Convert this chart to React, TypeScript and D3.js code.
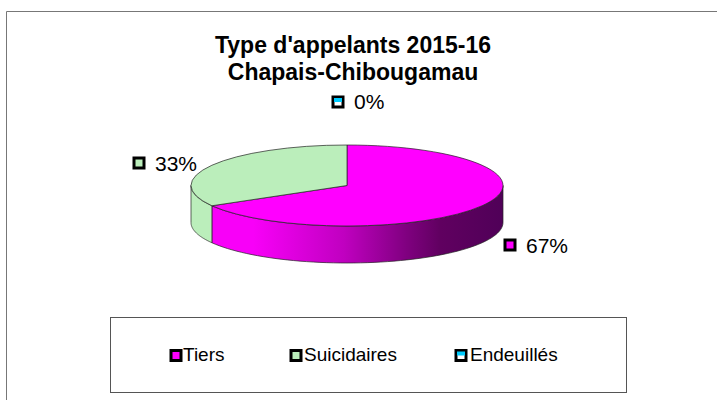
import React from 'react';
import * as d3 from 'd3';

const W = 717;
const H = 400;

const categories = ['Tiers', 'Suicidaires', 'Endeuillés'];
const values = [2, 1, 0];
const colors = ['#ff00ff', '#bbeebb', '#00ccff'];

const cx = 347;
const cy = 185.5;
const rx = 156;
const ry = 40.5;
const depth = 37;
const FONT = '"Liberation Sans", Arial, sans-serif';

const pieGen = d3.pie<number>().sort(null).value((d) => d);
const slices = pieGen(values);
const total = d3.sum(values);

// flattened circle -> ellipse point for a pie angle (0 = top, clockwise)
const pt = (a: number, dy = 0): [number, number] => [
  cx + rx * Math.sin(a),
  cy - ry * Math.cos(a) + dy,
];

const topArc = d3.arc<d3.PieArcDatum<number>>().innerRadius(0).outerRadius(rx);

// outer wall of a slice between two angles
const wall = (a0: number, a1: number) => {
  const steps = d3.range(0, 61).map((i) => a0 + ((a1 - a0) * i) / 60);
  const pts = [...steps.map((a) => pt(a)), ...steps.reverse().map((a) => pt(a, depth))];
  return d3.line()(pts) + 'Z';
};

const front = (a0: number, a1: number) => [Math.max(a0, Math.PI / 2), Math.min(a1, (3 * Math.PI) / 2)];

const Marker = ({ x, y, size, color, half }: { x: number; y: number; size: number; color: string; half?: boolean }) => (
  <g>
    <rect x={x} y={y} width={size} height={size} fill={half ? '#fff' : color} stroke="#000" strokeWidth={3} />
    {half && <rect x={x + 1} y={y + 1} width={size - 2} height={(size - 2) / 2} fill={color} />}
  </g>
);

const pctLabels = [
  { x: 505, y: 240, tx: 526, ty: 253 },
  { x: 134, y: 158, tx: 155, ty: 171 },
  { x: 333, y: 97, tx: 354, ty: 109 },
];

const legendX = [171, 291, 456];
const legendTextX = [183, 304, 470];

export default function App() {
  return (
    <svg width={W} height={H} style={{ position: 'absolute', left: 0, top: 0 }}>
      <defs>
        <linearGradient id="wallGrad" gradientUnits="userSpaceOnUse" x1={cx - rx} x2={cx + rx} y1={0} y2={0}>
          <stop offset="0.2" stopColor="#f800f8" />
          <stop offset="0.49" stopColor="#c000c0" />
          <stop offset="0.69" stopColor="#800080" />
          <stop offset="0.8" stopColor="#600060" />
          <stop offset="1" stopColor="#500058" />
        </linearGradient>
      </defs>
      <rect width={W} height={H} fill="#fff" />
      <path d="M6.5,400V11.5H717" fill="none" stroke="#777" strokeWidth={1} />

      <text x={353} y={53} textAnchor="middle" fontFamily={FONT} fontWeight="bold" fontSize={23}>
        Type d'appelants 2015-16
      </text>
      <text x={353} y={80} textAnchor="middle" fontFamily={FONT} fontWeight="bold" fontSize={23}>
        Chapais-Chibougamau
      </text>

      {slices.map((s, i) => {
        const [a0, a1] = front(s.startAngle, s.endAngle);
        if (a1 <= a0) return null;
        return (
          <path
            key={i}
            d={wall(a0, a1)}
            fill={i === 0 ? 'url(#wallGrad)' : colors[i]}
            stroke="#222"
            strokeWidth={0.7}
          />
        );
      })}
      {slices.map((s, i) =>
        s.endAngle > s.startAngle ? (
          <path
            key={i}
            d={topArc(s) as string}
            transform={`translate(${cx},${cy}) scale(1,${ry / rx})`}
            fill={colors[i]}
            stroke="#222"
            strokeWidth={0.7}
            vectorEffect="non-scaling-stroke"
          />
        ) : null
      )}

      {pctLabels.map((l, i) => (
        <g key={i}>
          <Marker x={l.x} y={l.y} size={10} color={colors[i]} half={i === 2} />
          <text x={l.tx} y={l.ty} fontFamily={FONT} fontSize={21} fill="#000">
            {Math.round((values[i] / total) * 100)}%
          </text>
        </g>
      ))}

      <rect x={110.5} y={317.5} width={516} height={75} fill="#fff" stroke="#555" strokeWidth={1} />
      {categories.map((c, i) => (
        <g key={c}>
          <Marker x={legendX[i]} y={350.5} size={10} color={colors[i]} half={i === 2} />
          <text x={legendTextX[i]} y={361} fontFamily={FONT} fontSize={19} fill="#000">
            {c}
          </text>
        </g>
      ))}
    </svg>
  );
}
